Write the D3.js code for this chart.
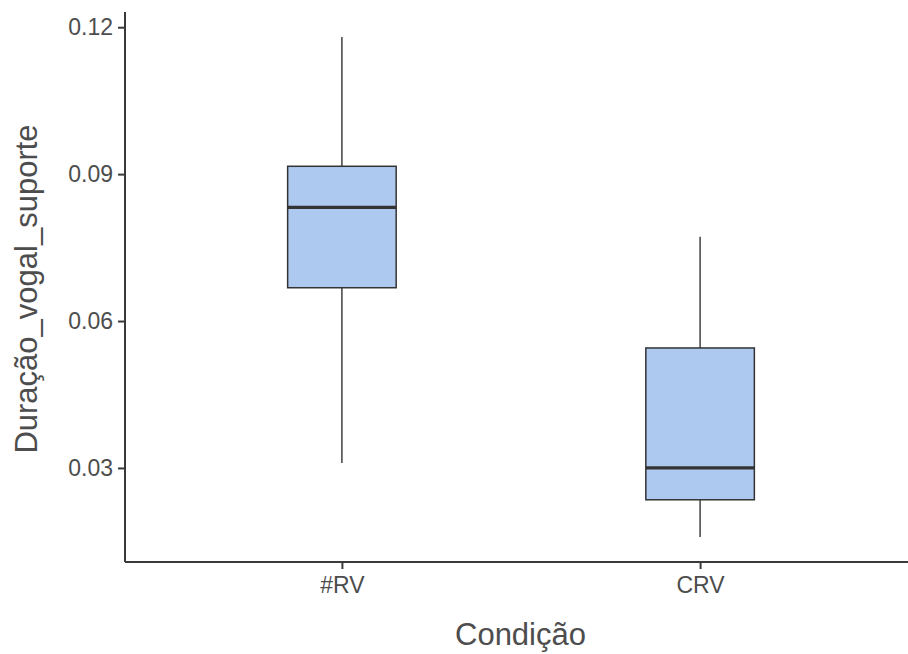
<!DOCTYPE html>
<html>
<head>
<meta charset="utf-8">
<script src="https://cdn.jsdelivr.net/npm/d3@7"></script>
<style>
  body { margin: 0; background: #fff; }
  text { font-family: "Liberation Sans", Arial, sans-serif; }
</style>
</head>
<body>
<svg id="chart"></svg>
<script>
// Boxplot summary
const categories = ['#RV', 'CRV'];
const whiskerLow = [0.0310, 0.0159];
const q1 = [0.0668, 0.0235];
const median = [0.0832, 0.0300];
const q3 = [0.0916, 0.0545];
const whiskerHigh = [0.1180, 0.0772];
const yTicks = [0.03, 0.06, 0.09, 0.12];

const width = 908, height = 654;
const margin = { top: 12, right: 0, bottom: 92, left: 125 };

const svg = d3.select('#chart').attr('width', width).attr('height', height);

const boxes = categories.map((c, i) => ({
  cat: c, lo: whiskerLow[i], q1: q1[i], med: median[i], q3: q3[i], hi: whiskerHigh[i]
}));

// ggplot-like expansion: 5% on continuous, 0.6 units on discrete
const yMin = d3.min(whiskerLow), yMax = d3.max(whiskerHigh);
const pad = (yMax - yMin) * 0.05;
const y = d3.scaleLinear()
  .domain([yMin - pad, yMax + pad])
  .range([height - margin.bottom, margin.top]);

// panel runs a little past the right edge of the picture
const x = d3.scalePoint()
  .domain(categories)
  .range([127, 915])
  .padding(0.6);
const boxW = x.step() * 0.303;

const g = svg.append('g');

// whiskers
g.selectAll('line.whisker')
  .data(boxes)
  .join('line')
  .attr('class', 'whisker')
  .attr('x1', d => x(d.cat)).attr('x2', d => x(d.cat))
  .attr('y1', d => y(d.lo)).attr('y2', d => y(d.hi))
  .attr('stroke', '#333').attr('stroke-width', 1.4);

// boxes
g.selectAll('rect.box')
  .data(boxes)
  .join('rect')
  .attr('class', 'box')
  .attr('x', d => x(d.cat) - boxW / 2)
  .attr('width', boxW)
  .attr('y', d => y(d.q3))
  .attr('height', d => y(d.q1) - y(d.q3))
  .attr('fill', '#aec9f0')
  .attr('stroke', '#333')
  .attr('stroke-width', 1.5);

// medians
g.selectAll('line.median')
  .data(boxes)
  .join('line')
  .attr('class', 'median')
  .attr('x1', d => x(d.cat) - boxW / 2).attr('x2', d => x(d.cat) + boxW / 2)
  .attr('y1', d => y(d.med)).attr('y2', d => y(d.med))
  .attr('stroke', '#333').attr('stroke-width', 3.2);

// axes
const yAxis = svg.append('g')
  .attr('transform', `translate(${margin.left},0)`)
  .call(d3.axisLeft(y).tickValues(yTicks).tickFormat(d3.format('.2f')).tickSize(7).tickPadding(5))
  .call(a => a.select('.domain').attr('d', `M0,${height - margin.bottom}V${margin.top}`));

const xAxis = svg.append('g')
  .attr('transform', `translate(0,${height - margin.bottom})`)
  .call(d3.axisBottom(x).tickSize(7).tickPadding(8))
  .call(a => a.select('.domain').attr('d', `M${margin.left},0H${width}`));

[yAxis, xAxis].forEach(a => {
  a.select('.domain').attr('stroke', '#3a3a3a').attr('stroke-width', 2);
  a.selectAll('.tick line').attr('stroke', '#3a3a3a').attr('stroke-width', 2);
  a.selectAll('.tick text').attr('fill', '#4d4d4d').style('font-size', '23px');
});

// axis titles
svg.append('text')
  .attr('x', (margin.left + width) / 2 + 4)
  .attr('y', 645)
  .attr('text-anchor', 'middle')
  .attr('fill', '#4d4d4d')
  .style('font-size', '31px')
  .text('Condição');

svg.append('text')
  .attr('transform', `translate(37,289) rotate(-90)`)
  .attr('text-anchor', 'middle')
  .attr('fill', '#4d4d4d')
  .style('font-size', '31px')
  .text('Duração_vogal_suporte');
</script>
</body>
</html>
